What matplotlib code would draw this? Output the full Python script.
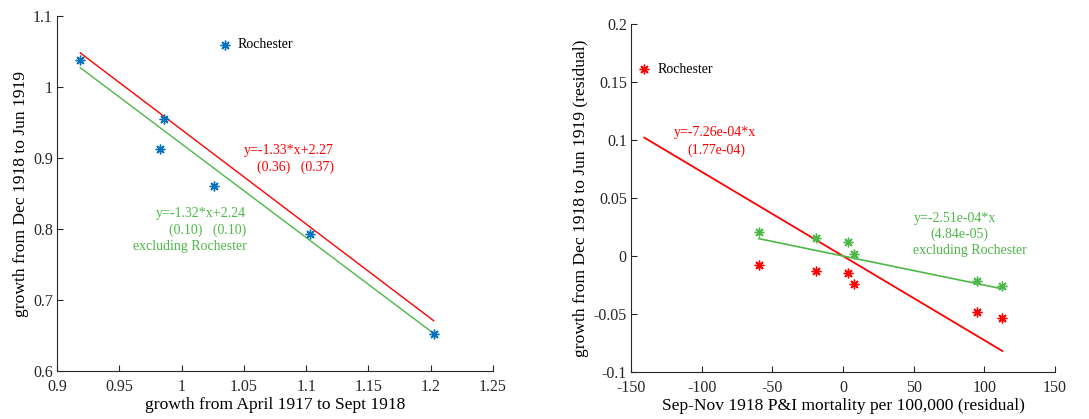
import numpy as np
from matplotlib import pyplot as plt

# Left panel: pre-pandemic growth vs post-pandemic growth
growth_pre = [0.9187, 0.9856, 0.9830, 1.0263, 1.1028, 1.2024]
growth_post = [1.0386, 0.9555, 0.9133, 0.8608, 0.7928, 0.6520]
roch_pre, roch_post = 1.0346, 1.0597

# Right panel: mortality residual vs growth residual
mort_resid = [-59.5, -18.9, 3.7, 7.7, 94.9, 112.8]
growth_resid_all = [-0.0075, -0.0133, -0.0150, -0.0239, -0.0486, -0.0535]
growth_resid_excl = [0.0203, 0.0151, 0.0120, 0.0020, -0.0213, -0.0262]
roch_mort, roch_resid = -140.6, 0.1612

# fitted coefficients
fit_all_left = (-1.33, 2.27)
fit_excl_left = (-1.32, 2.24)
slope_all_right = -7.26e-04
slope_excl_right = -2.51e-04

plt.rcParams['font.family'] = 'Liberation Serif'
plt.rcParams['axes.edgecolor'] = '#262626'
plt.rcParams['xtick.color'] = '#262626'
plt.rcParams['ytick.color'] = '#262626'

BLUE = '#0072BD'
RED = '#FF0000'
GREEN = '#4DB848'
AST = (8, 2, 0)

fig = plt.figure(figsize=(10.89, 4.19), dpi=100)
ax1 = fig.add_axes([0.0523, 0.1146, 0.4004, 0.847])
ax2 = fig.add_axes([0.5794, 0.1122, 0.3893, 0.8305])

for ax in (ax1, ax2):
    ax.spines['top'].set_visible(False)
    ax.spines['right'].set_visible(False)
    ax.spines['left'].set_linewidth(0.8)
    ax.spines['bottom'].set_linewidth(0.8)
    ax.tick_params(direction='in', length=4, width=0.8, labelsize=11.5)
    ax.tick_params(axis='x', pad=6)
    ax.tick_params(axis='y', pad=3)

# ---- left panel
xs = np.array([min(growth_pre), max(growth_pre)])
ax1.plot(xs, fit_all_left[0] * xs + fit_all_left[1], c=RED, lw=1.0)
ax1.plot(xs, fit_excl_left[0] * xs + fit_excl_left[1], c=GREEN, lw=1.0)
ax1.plot(growth_pre, growth_post, ls='none', marker=AST, ms=7, mew=1.0, c=BLUE)
ax1.plot([roch_pre], [roch_post], ls='none', marker=AST, ms=7, mew=1.0, c=BLUE)
ax1.text(1.0453, roch_post, 'Rochester', fontsize=10, va='center')

ax1.text(1.0499, 0.910, 'y=-1.33*x+2.27', color=RED, fontsize=10, va='center')
ax1.text(1.0606, 0.8866, '(0.36)   (0.37)', color=RED, fontsize=10, va='center')
ax1.text(0.9797, 0.8219, 'y=-1.32*x+2.24', color=GREEN, fontsize=10, va='center')
ax1.text(0.9896, 0.7984, '(0.10)   (0.10)', color=GREEN, fontsize=10, va='center')
ax1.text(0.9610, 0.7750, 'excluding Rochester', color=GREEN, fontsize=10, va='center')

ax1.set_xlim(0.9, 1.25)
ax1.set_ylim(0.6, 1.1)
ax1.set_xticks([0.9, 0.95, 1, 1.05, 1.1, 1.15, 1.2, 1.25])
ax1.set_xticklabels(['0.9', '0.95', '1', '1.05', '1.1', '1.15', '1.2', '1.25'])
ax1.set_yticks([0.6, 0.7, 0.8, 0.9, 1, 1.1])
ax1.set_yticklabels(['0.6', '0.7', '0.8', '0.9', '1', '1.1'])
ax1.set_xlabel('growth from April 1917 to Sept 1918', fontsize=12.6, labelpad=1)
ax1.set_ylabel('growth from Dec 1918 to Jun 1919', fontsize=12.6, labelpad=3)

# ---- right panel
xr = np.array([roch_mort, max(mort_resid)])
xg = np.array([min(mort_resid), max(mort_resid)])
ax2.plot(xr, slope_all_right * xr, c=RED, lw=1.3)
ax2.plot(xg, slope_excl_right * xg, c=GREEN, lw=1.2)
ax2.plot(mort_resid, growth_resid_excl, ls='none', marker=AST, ms=7, mew=1.0, c=GREEN)
ax2.plot(mort_resid, growth_resid_all, ls='none', marker=AST, ms=7, mew=1.0, c=RED)
ax2.plot([roch_mort], [roch_resid], ls='none', marker=AST, ms=7, mew=1.0, c=RED)
ax2.text(-130.9, roch_resid, 'Rochester', fontsize=10, va='center')

ax2.text(-119.8, 0.1064, 'y=-7.26e-04*x', color=RED, fontsize=10, va='center')
ax2.text(-110.4, 0.0915, '(1.77e-04)', color=RED, fontsize=10, va='center')
ax2.text(49.9, 0.0327, 'y=-2.51e-04*x', color=GREEN, fontsize=10, va='center')
ax2.text(61.7, 0.0189, '(4.84e-05)', color=GREEN, fontsize=10, va='center')
ax2.text(49.9, 0.0048, 'excluding Rochester', color=GREEN, fontsize=10, va='center')

ax2.set_xlim(-150, 150)
ax2.set_ylim(-0.1, 0.2)
ax2.set_xticks([-150, -100, -50, 0, 50, 100, 150])
ax2.set_yticks([-0.1, -0.05, 0, 0.05, 0.1, 0.15, 0.2])
ax2.set_yticklabels(['-0.1', '-0.05', '0', '0.05', '0.1', '0.15', '0.2'])
ax2.set_xticklabels(['-150', '-100', '-50', '0', '50', '100', '150'])
ax2.set_xlabel('Sep-Nov 1918 P&I mortality per 100,000 (residual)', fontsize=12.6, labelpad=1)
ax2.set_ylabel('growth from Dec 1918 to Jun 1919 (residual)', fontsize=12.6, labelpad=3)

fig.savefig('out.png', dpi=100)
